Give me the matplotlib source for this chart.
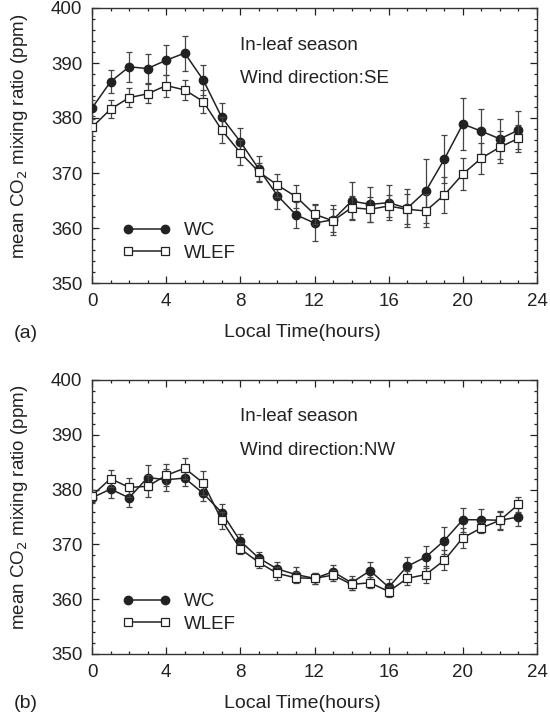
import matplotlib
matplotlib.use("Agg")
import matplotlib.pyplot as plt
from matplotlib.ticker import MultipleLocator
import numpy as np

plt.rcParams['font.family'] = ['Liberation Sans', 'DejaVu Sans']

hours = list(range(24))

# Panel (a): wind direction SE
wc_se = [381.8, 386.6, 389.3, 389.0, 390.5, 391.8, 386.9, 380.1, 375.7, 370.7, 365.9, 362.4,
         360.9, 361.5, 364.9, 364.3, 364.6, 363.6, 366.7, 372.5, 378.9, 377.6, 376.2, 377.8]
wc_se_err = [1.5, 2.1, 2.7, 2.7, 2.7, 3.2, 2.7, 2.7, 2.4, 2.4, 2.5, 2.4,
             3.2, 2.7, 3.5, 3.2, 3.2, 3.5, 5.8, 4.4, 4.7, 4.1, 3.6, 3.4]
wlef_se = [378.3, 381.6, 383.7, 384.4, 385.9, 385.1, 383.0, 377.8, 373.7, 370.2, 367.8, 365.7,
           362.5, 361.3, 363.7, 363.4, 364.0, 363.4, 363.1, 366.0, 369.8, 372.7, 374.7, 376.3]
wlef_se_err = [1.5, 1.6, 1.7, 1.7, 2.0, 1.9, 2.1, 2.4, 2.3, 1.7, 2.1, 2.1,
               1.8, 2.1, 2.1, 2.3, 2.0, 2.7, 3.0, 3.2, 2.9, 2.8, 2.9, 2.4]

# Panel (b): wind direction NW
wc_nw = [378.5, 380.1, 378.5, 382.2, 381.8, 382.1, 379.3, 375.8, 370.6, 367.5, 365.5, 364.5,
         363.8, 365.0, 363.0, 365.2, 362.2, 366.0, 367.7, 370.7, 374.5, 374.5, 374.4, 375.0]
wc_nw_err = [1.0, 1.7, 1.7, 2.3, 2.0, 1.5, 1.3, 1.5, 1.3, 1.2, 1.2, 1.3,
             1.0, 1.3, 1.3, 1.6, 1.5, 1.7, 2.0, 2.4, 2.2, 2.0, 1.7, 1.6]
wlef_nw = [378.9, 382.0, 380.4, 380.6, 382.6, 383.9, 381.2, 374.4, 369.2, 366.7, 364.7, 363.9,
           363.8, 364.4, 362.7, 363.0, 361.4, 363.8, 364.5, 367.1, 371.2, 373.0, 374.4, 377.3]
wlef_nw_err = [1.0, 1.6, 1.7, 2.0, 2.0, 1.9, 2.2, 1.6, 1.0, 1.0, 1.2, 1.0,
               1.0, 1.0, 1.0, 1.0, 1.0, 1.3, 1.5, 1.8, 1.8, 1.0, 1.5, 1.3]

x_ticks = [0, 4, 8, 12, 16, 20, 24]
y_ticks = [350, 360, 370, 380, 390, 400]

panels = [
    dict(wc=wc_se, wce=wc_se_err, wl=wlef_se, wle=wlef_se_err, wind="SE", tag="(a)"),
    dict(wc=wc_nw, wce=wc_nw_err, wl=wlef_nw, wle=wlef_nw_err, wind="NW", tag="(b)"),
]

W, H = 550, 716
fig = plt.figure(figsize=(W / 100, H / 100), dpi=100)

ink = '#222222'
axes_px = [(8, 283), (380, 654)]  # top, bottom in pixels
left_px, right_px = 92, 537

for p, (top, bot) in zip(panels, axes_px):
    h_px = bot - top
    ax = fig.add_axes([left_px / W, 1 - bot / H, (right_px - left_px) / W, h_px / H])
    c1 = ax.errorbar(hours, p['wc'], yerr=p['wce'], color=ink, lw=1.1, marker='o', ms=6,
                     mfc=ink, mec=ink, ecolor='#444444', elinewidth=0.9, capsize=2.5,
                     capthick=0.9, zorder=3)
    c2 = ax.errorbar(hours, p['wl'], yerr=p['wle'], color=ink, lw=1.1, marker='s', ms=6,
                     mfc='white', mec=ink, mew=0.9, ecolor='#444444', elinewidth=0.9,
                     capsize=2.5, capthick=0.9, zorder=4)
    ax.set_xlim(0, 24)
    ax.set_ylim(350, 400)
    ax.set_xticks(x_ticks)
    ax.set_yticks(y_ticks)
    ax.xaxis.set_minor_locator(MultipleLocator(1))
    ax.yaxis.set_minor_locator(MultipleLocator(2))
    ax.tick_params(which='both', direction='in', top=True, right=True, color=ink,
                   labelsize=13.5, labelcolor=ink, width=0.9)
    ax.tick_params(which='major', length=5, pad=7)
    ax.tick_params(which='minor', length=2.5)
    for s in ax.spines.values():
        s.set_color('#333333')
        s.set_linewidth(1.0)
    ax.set_ylabel('mean CO$_2$ mixing ratio (ppm)', fontsize=13.5, color=ink)
    ax.yaxis.label.set_va('center')
    ax.yaxis.set_label_coords(-72 / (right_px - left_px), 0.535)
    ax.set_xlabel('Local Time(hours)', fontsize=14, color=ink)
    ax.xaxis.label.set_va('center')
    ax.xaxis.set_label_coords(0.472, -50 / h_px)
    ax.text(0.333, 0.865, 'In-leaf season', transform=ax.transAxes, fontsize=13.5,
            color=ink, va='center', ha='left')
    ax.text(0.333, 0.742, 'Wind direction:' + p['wind'], transform=ax.transAxes,
            fontsize=13.5, color=ink, va='center', ha='left')
    ax.text(14 / W, 1 - (bot + 50) / H, p['tag'], transform=fig.transFigure, fontsize=14,
            color=ink, va='center', ha='left')
    leg = ax.legend(handles=[c1[0], c2[0]], labels=['WC', 'WLEF'], loc='upper left',
                    bbox_to_anchor=(0.068, 0.222), frameon=False,
                    fontsize=13.5, handlelength=2.6, handletextpad=0.7, labelspacing=0.3,
                    borderpad=0, borderaxespad=0, numpoints=2)
    for t in leg.get_texts():
        t.set_color(ink)

fig.savefig('out.png', dpi=100)
